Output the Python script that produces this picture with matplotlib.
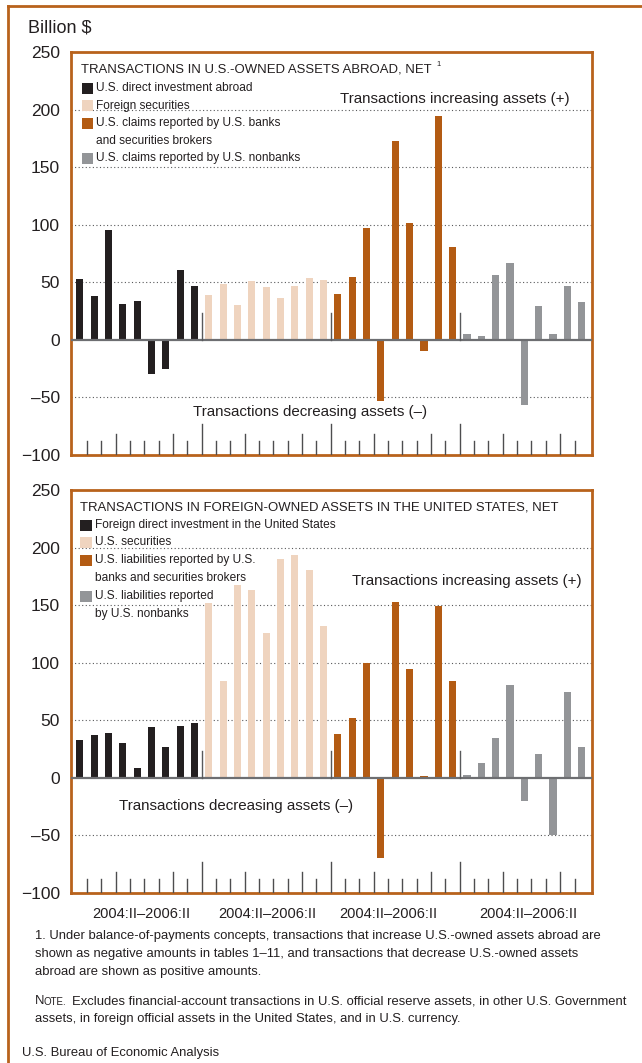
import matplotlib
matplotlib.use("Agg")
import matplotlib.pyplot as plt
from matplotlib.patches import Rectangle
from matplotlib.lines import Line2D

W, H = 642, 1063

# ---- data (billion $, quarterly 2004:II-2006:II, 9 quarters per group) ----
range_label = "2004:II\u20132006:II"
group_labels = [range_label] * 4

abroad_direct = [53, 38.5, 95, 31, 34, -30, -25, 61, 46.7]
abroad_foreign_sec = [39, 48.7, 30.4, 50.7, 46, 36.5, 47, 54, 52]
abroad_banks = [40, 54.8, 97.4, -52.8, 173, 101.7, -10, 194.8, 80.9]
abroad_nonbanks = [5.2, 3.5, 56.5, 67, -57, 29.6, 5.2, 47, 33]

foreign_direct = [33, 36.8, 39, 30.4, 8.4, 44.3, 26.4, 45.2, 47.8]
foreign_us_sec = [151.6, 83.8, 167.8, 162.9, 125.5, 189.8, 193.3, 180.6, 131.6]
foreign_banks = [37.7, 51.6, 99.4, -69.9, 152.5, 94.2, 2, 149, 83.8]
foreign_nonbanks = [2.9, 13.3, 35, 80.3, -20.3, 20.3, -49.9, 75, 26.4]

top_series = [abroad_direct, abroad_foreign_sec, abroad_banks, abroad_nonbanks]
bottom_series = [foreign_direct, foreign_us_sec, foreign_banks, foreign_nonbanks]

top_legend = ["U.S. direct investment abroad", "Foreign securities",
              "U.S. claims reported by U.S. banks\nand securities brokers",
              "U.S. claims reported by U.S. nonbanks"]
bottom_legend = ["Foreign direct investment in the United States", "U.S. securities",
                 "U.S. liabilities reported by U.S.\nbanks and securities brokers",
                 "U.S. liabilities reported\nby U.S. nonbanks"]

y_ticks = [-100, -50, 0, 50, 100, 150, 200, 250]
y_ticklabels = ["\u2212100", "\u201350", "0", "50", "100", "150", "200", "250"]

COLORS = ["#231f20", "#efd4bf", "#b35b13", "#939598"]
BORDER = "#b8621c"
FONT = ["Liberation Sans", "DejaVu Sans"]
TXT = "#231f20"
LEG_FS = 8.6
TITLE_FS = 9.45
NOTE_FS = 10.9
FOOT_FS = 9.4


def fx(x):
    return x / W


def fy(y):
    return 1 - y / H


def draw_panel(fig, top_px, series, show_xlabels):
    ax = fig.add_axes([fx(71), fy(top_px + 403), 521 / W, 403 / H])
    n = len(series[0])
    for g, vals in enumerate(series):
        xs = [g * n + i for i in range(n)]
        ax.bar(xs, vals, width=0.5, color=COLORS[g], zorder=2)
    total = n * len(series)

    for v in [-50, 50, 100, 150, 200]:
        ax.axhline(v, color="#58595b", lw=0.8, ls=(0, (1, 2.2)), zorder=1)
    ax.axhline(0, color="#6d6e71", lw=1.6, zorder=3)

    # group separators above zero
    for g in range(1, len(series)):
        ax.plot([g * n - 0.5] * 2, [0, 23], color="#58595b", lw=1, zorder=3)

    # quarter ticks along the bottom (taller at year and group breaks)
    for i in range(total - 1):
        pos = i + 0.5
        k = i % n
        if k == n - 1:
            h = 27
        elif k in (2, 6):
            h = 18
        else:
            h = 12
        ax.plot([pos, pos], [-100, -100 + h], color="#4d4d4f", lw=1, zorder=3)

    ax.set_xlim(-0.61, total - 1 + 0.72)
    ax.set_ylim(-100, 250)
    ax.set_yticks(y_ticks)
    ax.set_yticklabels(y_ticklabels, fontsize=12.5, family=FONT, color=TXT)
    ax.tick_params(axis="y", length=0, pad=8)
    if show_xlabels:
        ax.set_xticks([4.3, 13.1, 21.5, 31.3])
        ax.set_xticklabels(group_labels, fontsize=10.5, family=FONT, color=TXT)
        ax.tick_params(axis="x", length=0, pad=10)
    else:
        ax.set_xticks([])
    for sp in ax.spines.values():
        sp.set_color(BORDER)
        sp.set_linewidth(2)
    return ax


def legend_box(fig, x, y, color):
    fig.add_artist(Rectangle((fx(x), fy(y + 5.5)), 11.5 / W, 11 / H,
                             transform=fig.transFigure, color=color, lw=0))


def legend(fig, labels, rows, box_x, text_x):
    for lbl, yy, c in zip(labels, rows, COLORS):
        legend_box(fig, box_x, yy, c)
        for j, ln in enumerate(lbl.split("\n")):
            fig.text(fx(text_x), fy(yy + 17.7 * j), ln, fontsize=LEG_FS, family=FONT,
                     color=TXT, va="center")


fig = plt.figure(figsize=(W / 100, H / 100), dpi=100)

# outer frame (left and top)
fig.add_artist(Line2D([fx(8), fx(8)], [fy(6), 0], transform=fig.transFigure, color=BORDER, lw=2))
fig.add_artist(Line2D([fx(8), 1], [fy(6), fy(6)], transform=fig.transFigure, color=BORDER, lw=2))

fig.text(fx(28), fy(28), "Billion $", fontsize=13, family=FONT, color=TXT, va="center")

draw_panel(fig, 52, top_series, False)
draw_panel(fig, 490, bottom_series, True)

# ---- top panel texts ----
fig.text(fx(81), fy(69), "TRANSACTIONS IN U.S.-OWNED ASSETS ABROAD, NET", fontsize=TITLE_FS,
         family=FONT, color=TXT, va="center")
fig.text(fx(436), fy(65), "1", fontsize=5.5, family=FONT, color=TXT, va="center")
legend(fig, top_legend, [88, 105.7, 123, 158], 82, 96)
fig.text(fx(340), fy(99.5), "Transactions increasing assets (+)", fontsize=NOTE_FS, family=FONT,
         color=TXT, va="center")
fig.text(fx(193), fy(412), "Transactions decreasing assets (\u2013)", fontsize=NOTE_FS, family=FONT,
         color=TXT, va="center")

# ---- bottom panel texts ----
fig.text(fx(80), fy(507), "TRANSACTIONS IN FOREIGN-OWNED ASSETS IN THE UNITED STATES, NET",
         fontsize=TITLE_FS, family=FONT, color=TXT, va="center")
legend(fig, bottom_legend, [525, 542, 560, 596], 80, 95)
fig.text(fx(352), fy(581), "Transactions increasing assets (+)", fontsize=NOTE_FS, family=FONT,
         color=TXT, va="center")
fig.text(fx(119), fy(806), "Transactions decreasing assets (\u2013)", fontsize=NOTE_FS, family=FONT,
         color=TXT, va="center")

# ---- notes ----
foot = ["1. Under balance-of-payments concepts, transactions that increase U.S.-owned assets abroad are",
        "shown as negative amounts in tables 1\u201311, and transactions that decrease U.S.-owned assets",
        "abroad are shown as positive amounts."]
for j, ln in enumerate(foot):
    fig.text(fx(35), fy(936 + 18 * j), ln, fontsize=FOOT_FS, family=FONT, color=TXT, va="center")
fig.text(fx(35), fy(1001), "N", fontsize=FOOT_FS, family=FONT, color=TXT, va="center")
fig.text(fx(44), fy(1002), "OTE.", fontsize=7.0, family=FONT, color=TXT, va="center")
fig.text(fx(72), fy(1001), "Excludes financial-account transactions in U.S. official reserve assets, in other U.S. Government",
         fontsize=FOOT_FS, family=FONT, color=TXT, va="center")
fig.text(fx(35), fy(1019), "assets, in foreign official assets in the United States, and in U.S. currency.",
         fontsize=FOOT_FS, family=FONT, color=TXT, va="center")
fig.text(fx(22), fy(1053), "U.S. Bureau of Economic Analysis", fontsize=FOOT_FS, family=FONT,
         color=TXT, va="center")

fig.savefig("out.png", dpi=100)
